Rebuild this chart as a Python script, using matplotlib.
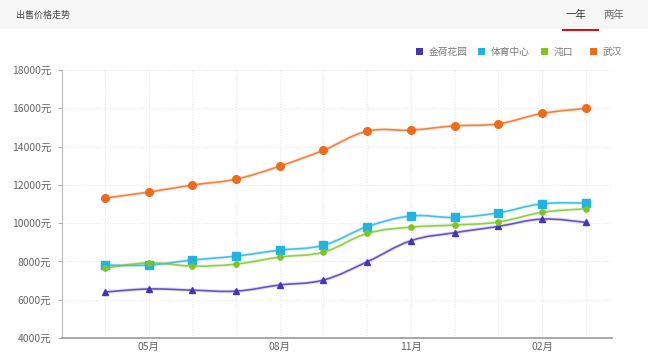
import matplotlib
matplotlib.use("Agg")
import matplotlib.pyplot as plt
from matplotlib.path import Path
from matplotlib.patches import PathPatch, Rectangle
import numpy as np

plt.rcParams["font.family"] = ["Noto Sans CJK SC", "DejaVu Sans"]

months = ["04月", "05月", "06月", "07月", "08月", "09月", "10月", "11月", "12月", "01月", "02月", "03月"]
shown_ticks = ["05月", "08月", "11月", "02月"]

series_names = ["金荷花园", "体育中心", "沌口", "武汉"]
jinhe = [6400, 6560, 6500, 6450, 6770, 7030, 7980, 9080, 9500, 9830, 10210, 10040]
tiyu = [7810, 7810, 8070, 8280, 8590, 8850, 9810, 10370, 10300, 10540, 11010, 11050]
dongkou = [7650, 7920, 7760, 7860, 8230, 8490, 9460, 9790, 9900, 10060, 10560, 10750]
wuhan = [11310, 11620, 11990, 12300, 12980, 13810, 14800, 14860, 15080, 15190, 15730, 15990]

colors = ["#4535b8", "#22b3e0", "#7dc622", "#ef6a1b"]
markers = ["^", "s", "o", "o"]
msizes = [4.5, 5.5, 3.8, 5.5]
yticks = list(range(4000, 18001, 2000))


def smooth_path(xs, ys, t=0.2):
    # catmull-rom style bezier through the points
    xs = np.asarray(xs, float)
    ys = np.asarray(ys, float)
    verts = [(xs[0], ys[0])]
    codes = [Path.MOVETO]
    n = len(xs)
    for i in range(n - 1):
        x0, y0 = (xs[i - 1], ys[i - 1]) if i > 0 else (xs[i], ys[i])
        x3, y3 = (xs[i + 2], ys[i + 2]) if i + 2 < n else (xs[i + 1], ys[i + 1])
        c1 = (xs[i] + (xs[i + 1] - x0) * t, ys[i] + (ys[i + 1] - y0) * t)
        c2 = (xs[i + 1] - (x3 - xs[i]) * t, ys[i + 1] - (y3 - ys[i]) * t)
        verts += [c1, c2, (xs[i + 1], ys[i + 1])]
        codes += [Path.CURVE4] * 3
    return Path(verts, codes)


fig = plt.figure(figsize=(6.48, 3.55), dpi=100)

# header band
fig.patches.append(Rectangle((0, 1 - 29 / 355), 1, 29 / 355, transform=fig.transFigure,
                             facecolor="#f6f6f6", edgecolor="none", zorder=0))
fig.text(16 / 648, 1 - 15 / 355, "出售价格走势", fontsize=6.5, color="#444444", va="center")
fig.text(576 / 648, 1 - 15 / 355, "一年", fontsize=7.5, color="#333333", va="center", ha="center")
fig.text(614 / 648, 1 - 15 / 355, "两年", fontsize=7.5, color="#666666", va="center", ha="center")
fig.lines.append(plt.Line2D([563 / 648, 598 / 648], [1 - 30 / 355] * 2, transform=fig.transFigure,
                            color="#c8161d", linewidth=1.5))

ax = fig.add_axes([62 / 648, 1 - 338 / 355, (612 - 62) / 648, (338 - 70) / 355])
x = np.arange(len(months))
all_series = [jinhe, tiyu, dongkou, wuhan]
for vals, c, m, ms in zip(all_series, colors, markers, msizes):
    ax.add_patch(PathPatch(smooth_path(x, vals), facecolor="none", edgecolor=c,
                           linewidth=2.6, alpha=0.15, zorder=2))
    ax.add_patch(PathPatch(smooth_path(x, vals), facecolor="none", edgecolor=c,
                           linewidth=1.2, alpha=0.8, zorder=3))
    ax.plot(x, vals, linestyle="none", marker=m, markersize=ms, color=c, zorder=4)

ax.set_xlim(-0.98, 11.6)
ax.set_ylim(4000, 18000)
ax.set_yticks(yticks)
ax.set_yticklabels([f"{v}元" for v in yticks], fontsize=7.5, color="#666666")
ax.set_xticks([months.index(m) for m in shown_ticks])
ax.set_xticklabels(shown_ticks, fontsize=7.5, color="#666666")
ax.tick_params(axis="y", length=3, color="#aaaaaa", pad=5)
ax.tick_params(axis="x", length=0, pad=3)
for v in yticks[1:]:
    ax.axhline(v, color="#e6e6e6", linestyle=(0, (1, 1.5)), linewidth=0.8, zorder=1)
for xi in x:
    ax.axvline(xi, color="#e6e6e6", linestyle=(0, (1, 1.5)), linewidth=0.8, zorder=1)
for s in ["top", "right"]:
    ax.spines[s].set_visible(False)
ax.spines["left"].set_color("#bbbbbb")
ax.spines["bottom"].set_color("#999999")
ax.spines["bottom"].set_linewidth(1.2)

# legend
leg_x = [419, 481, 544, 593]
for lx, name, c in zip(leg_x, series_names, colors):
    fig.patches.append(Rectangle((lx / 648 - 3.5 / 648, 1 - 55 / 355), 7 / 648, 7 / 355,
                                 transform=fig.transFigure, facecolor=c, edgecolor="none"))
    fig.text(lx / 648 + 10 / 648, 1 - 51.5 / 355, name, fontsize=7, color="#777777", va="center")

fig.savefig("out.png", dpi=100)
